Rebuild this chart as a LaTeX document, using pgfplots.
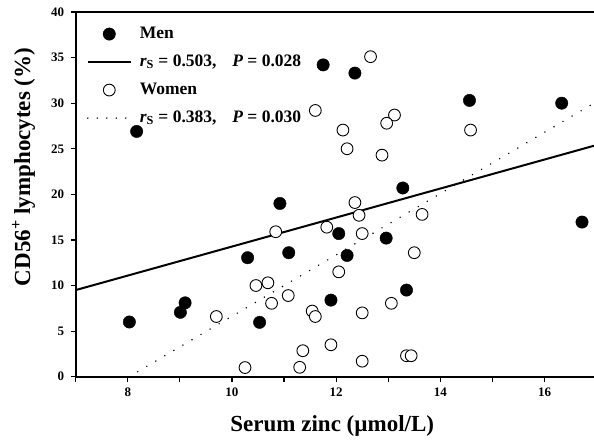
\documentclass[border=0pt]{standalone}
\usepackage{fontspec}
\setmainfont{Liberation Serif}
\usepackage{pgfplots}
\pgfplotsset{compat=1.18}

% men and women, serum zinc vs CD56+ (%)
\pgfplotstableread{
x y
8.03 6.0
8.17 26.9
9.01 7.06
9.10 8.1
10.30 13.05
10.53 5.96
10.92 19.0
11.09 13.6
11.75 34.2
12.36 33.3
14.56 30.3
16.33 30.0
13.28 20.7
16.72 16.96
12.05 15.7
12.96 15.2
12.21 13.3
11.90 8.4
13.35 9.5
}\men

\pgfplotstableread{
x y
12.66 35.1
11.60 29.2
12.13 27.05
12.21 25.0
13.12 28.7
12.97 27.8
12.88 24.3
14.58 27.05
12.36 19.1
12.44 17.7
13.65 17.8
10.84 15.9
9.70 6.6
10.25 1.0
10.46 10.0
10.69 10.3
10.76 8.05
11.08 8.9
11.36 2.85
11.30 1.03
11.82 16.4
12.50 15.7
13.50 13.6
12.05 11.5
11.54 7.2
11.60 6.6
12.50 7.0
13.06 8.05
11.90 3.5
12.50 1.7
13.35 2.3
13.44 2.3
}\women

\begin{document}
\begin{tikzpicture}
    \begin{axis}[
            scale only axis,
            width=518.3bp, height=364.7bp,
            xmin=7, xmax=16.95, ymin=0, ymax=40,
            axis x line=box, axis y line=left,
            axis line style={-, line width=2.2bp},
            xtick pos=left,
            xtick={8,10,12,14,16},
            minor xtick={7,9,11,13,15},
            ytick={0,5,...,40},
            tick align=outside,
            major tick length=5bp, minor tick length=5bp,
            every tick/.style={black, line width=1.2bp},
            /pgf/number format/assume math mode=true,
            ticklabel style={font=\bfseries\fontsize{13bp}{15bp}\selectfont},
            xticklabel style={yshift=-3bp},
            yticklabel style={xshift=-3bp},
            xlabel={Serum zinc (µmol/L)},
            ylabel={CD56\textsuperscript{+} lymphocytes (\%)},
            label style={font=\bfseries\fontsize{23bp}{23bp}\selectfont},
            xlabel style={at={(axis description cs:0.495,-0.151)}, anchor=base},
            ylabel style={at={(axis description cs:-0.088,0.575)}, anchor=base},
            legend style={
                    at={(axis description cs:0.021,0.962)},
                    anchor=north west,
                    draw=none, fill=none, inner sep=0pt,
                    row sep=12bp, column sep=8bp,
                    font=\bfseries\fontsize{17.5bp}{17.5bp}\selectfont,
                    nodes={text height=12bp, text depth=4bp, inner sep=0pt}
                },
            legend cell align=left,
            legend image code/.code={
                    \draw[mark repeat=2, mark phase=2, #1]
                    plot coordinates {(0bp,0bp) (21.5bp,0bp) (43bp,0bp)};
                },
        ]

        % regression lines first, so the marks sit on top
        \addplot[black, line width=2bp, forget plot] coordinates {(7,9.5) (16.95,25.33)};
        \addplot[black, line width=1.6bp, line cap=round,
            dash pattern=on 0bp off 10.5bp, forget plot]
        coordinates {(8.19,0.55) (16.95,30.0)};

        \addplot[only marks, mark=*, mark size=6.2bp, black] table {\men};
        \addlegendentry{Men}
        \addlegendimage{black, line width=2bp}
        \addlegendentry{\textit{r}\textsubscript{S} = 0.503,\hspace{0.9em}\textit{P} = 0.028}

        \addplot[only marks, mark=*, mark size=5.9bp, black,
            mark options={fill=white, line width=0.9bp}] table {\women};
        \addlegendentry{Women}
        \addlegendimage{black, line width=1.6bp, line cap=round, dash pattern=on 0bp off 9.5bp}
        \addlegendentry{\textit{r}\textsubscript{S} = 0.383,\hspace{0.9em}\textit{P} = 0.030}

    \end{axis}
    \pgfresetboundingbox
    \path[use as bounding box] (-75.7bp,-63.3bp) rectangle (518.3bp,376.7bp);
\end{tikzpicture}
\end{document}
